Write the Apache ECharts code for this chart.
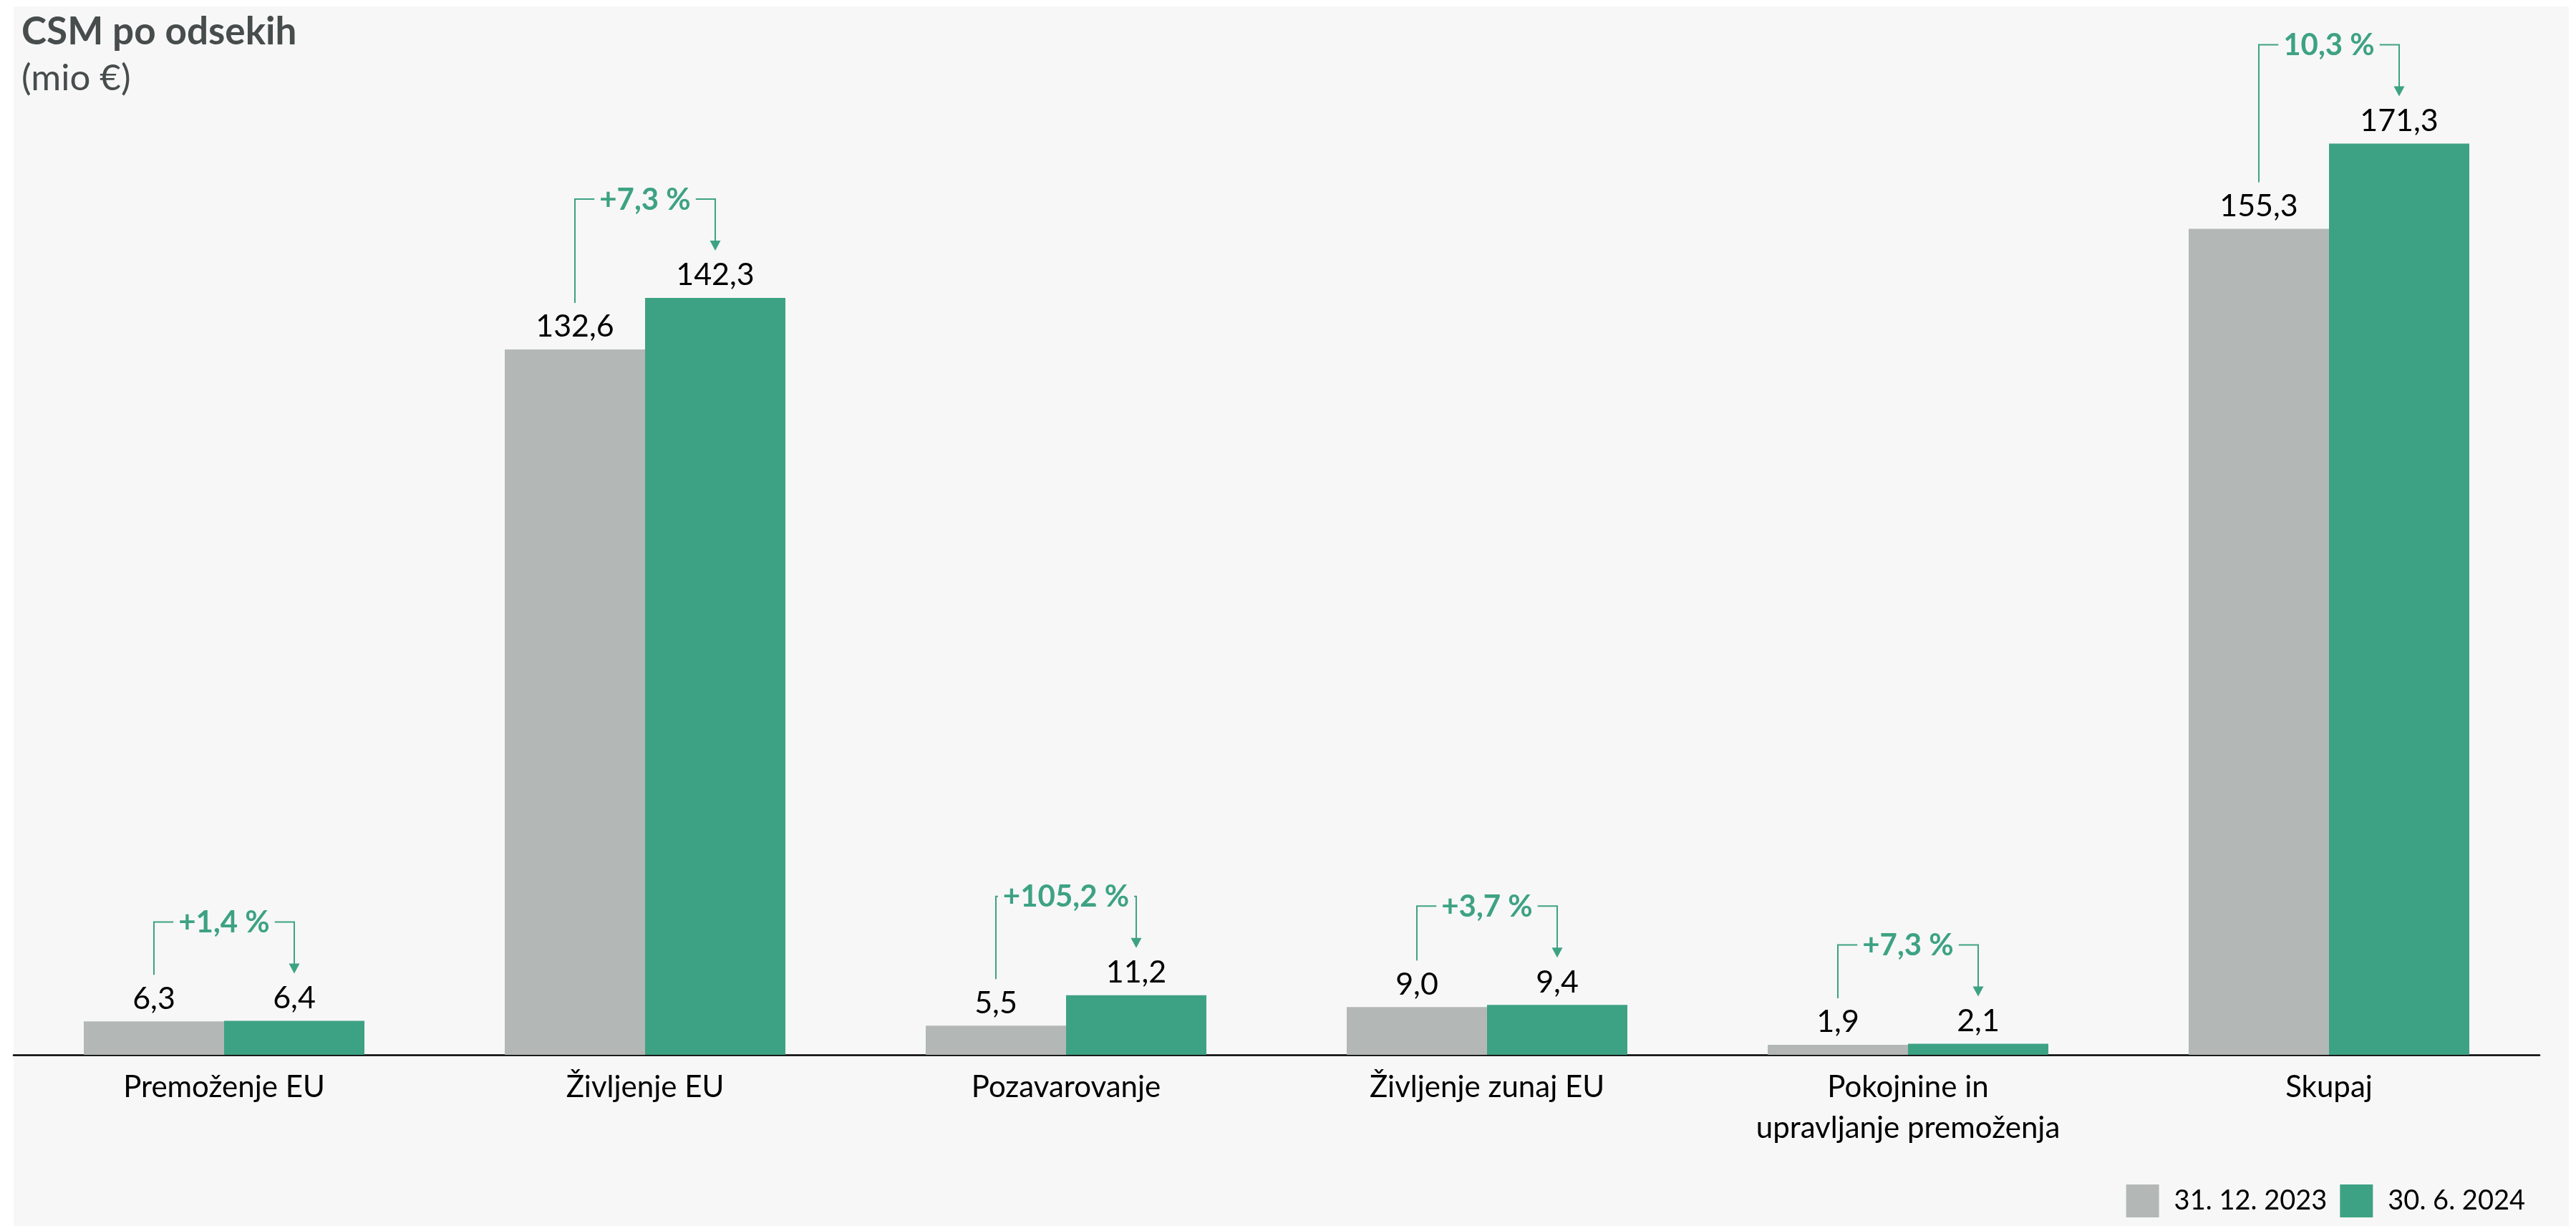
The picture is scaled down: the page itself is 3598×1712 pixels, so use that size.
<!DOCTYPE html>
<html>
<head>
<meta charset="utf-8">
<script src="https://cdn.jsdelivr.net/npm/echarts@6/dist/echarts.min.js"></script>
<style>
html,body{margin:0;padding:0;background:#ffffff;}
#chart{width:3598px;height:1712px;}
</style>
</head>
<body>
<div id="chart"></div>
<script>
const categories = ['Premoženje EU', 'Življenje EU', 'Pozavarovanje', 'Življenje zunaj EU', 'Pokojnine in\nupravljanje premoženja', 'Skupaj'];
const values2023 = [6.3, 132.6, 5.5, 9.0, 1.9, 155.3];
const values2024 = [6.4, 142.3, 11.2, 9.4, 2.1, 171.3];
const changeLabels = ['+1,4 %', '+7,3 %', '+105,2 %', '+3,7 %', '+7,3 %', '10,3 %'];
const seriesNames = ['31. 12. 2023', '30. 6. 2024'];

const GRAY = '#b3b8b7';
const GREEN = '#3da283';
const FONT = 'Lato, "Open Sans", sans-serif';
const PCT_FONT = 'bold 42px Lato';

const measureCanvas = document.createElement('canvas').getContext('2d');
function textWidth(t) {
  measureCanvas.font = PCT_FONT;
  return measureCanvas.measureText(t).width;
}
function fmt(v) { return v.toFixed(1).replace('.', ','); }

const chart = echarts.init(document.getElementById('chart'), null, {renderer: 'canvas'});

const option = {
  backgroundColor: '#ffffff',
  animation: false,
  graphic: [{
    type: 'rect', z: -100, silent: true,
    shape: {x: 19, y: 9, width: 3569, height: 1703},
    style: {fill: '#f7f7f7'}
  }],
  title: [{
    text: 'CSM po odsekih',
    left: 30, top: 18, padding: 0,
    textStyle: {fontFamily: FONT, fontWeight: 'bold', fontSize: 53, lineHeight: 53, color: '#474c4c'}
  }, {
    text: '(mio €)',
    left: 30, top: 84, padding: 0,
    textStyle: {fontFamily: FONT, fontWeight: 'normal', fontSize: 51, lineHeight: 51, color: '#474c4c'}
  }],
  legend: {
    data: seriesNames,
    right: 71, top: 1654, padding: 0,
    itemWidth: 46, itemHeight: 46, itemGap: 18,
    icon: 'rect',
    textStyle: {fontFamily: FONT, fontSize: 38, color: '#000', padding: [0, 0, 0, 16]}
  },
  grid: {left: 19, right: 51, top: 136, bottom: 239, containLabel: false},
  xAxis: {
    type: 'category',
    data: categories,
    axisLine: {lineStyle: {color: '#000', width: 2.5}},
    axisTick: {show: false},
    axisLabel: {fontFamily: FONT, fontSize: 42, lineHeight: 57, color: '#000', margin: 17, interval: 0}
  },
  yAxis: {
    type: 'value', min: 0, max: 180, show: false,
    splitLine: {show: false}
  },
  series: [{
    name: seriesNames[0], type: 'bar', data: values2023,
    barCategoryGap: '33.33%', barGap: '0%',
    itemStyle: {color: GRAY},
    label: {show: true, position: 'top', distance: 10, fontFamily: FONT, fontSize: 43, color: '#000', formatter: p => fmt(p.value)}
  }, {
    name: seriesNames[1], type: 'bar', data: values2024,
    barCategoryGap: '33.33%', barGap: '0%',
    itemStyle: {color: GREEN},
    label: {show: true, position: 'top', distance: 10, fontFamily: FONT, fontSize: 43, color: '#000', formatter: p => fmt(p.value)}
  }, {
    type: 'custom',
    silent: true,
    clip: false,
    z: 5,
    data: categories.map((c, i) => [i, values2023[i], values2024[i]]),
    encode: {x: 0, y: [1, 2]},
    renderItem: function (params, api) {
      const i = api.value(0);
      const a = api.value(1), b = api.value(2);
      const cw = api.size([1, 0])[0];
      const off = cw / 6;
      const cx = api.coord([i, 0])[0];
      const ya = api.coord([i, a])[1];
      const yb = api.coord([i, b])[1];
      const yLine = Math.min(ya, yb) - 138;
      const xl = cx - off, xr = cx + off;
      const label = changeLabels[i];
      const tw = textWidth(label);
      const lEnd = Math.max(cx - tw / 2 - 7, xl + 2);
      const rStart = Math.min(cx + tw / 2 + 7, xr - 2);
      const lineStyle = {stroke: GREEN, lineWidth: 2, fill: null};
      const tipY = yb - 66;
      return {
        type: 'group',
        children: [
          {type: 'polyline', shape: {points: [[xl, ya - 65], [xl, yLine], [lEnd, yLine]]}, style: lineStyle},
          {type: 'polyline', shape: {points: [[rStart, yLine], [xr, yLine], [xr, tipY - 12]]}, style: lineStyle},
          {type: 'polygon', shape: {points: [[xr - 7.5, tipY - 14], [xr + 7.5, tipY - 14], [xr, tipY]]}, style: {fill: GREEN}},
          {type: 'text', x: cx, y: yLine + 1, style: {text: label, fill: GREEN, font: PCT_FONT, align: 'center', verticalAlign: 'middle'}}
        ]
      };
    }
  }]
};
chart.setOption(option);
</script>
</body>
</html>
